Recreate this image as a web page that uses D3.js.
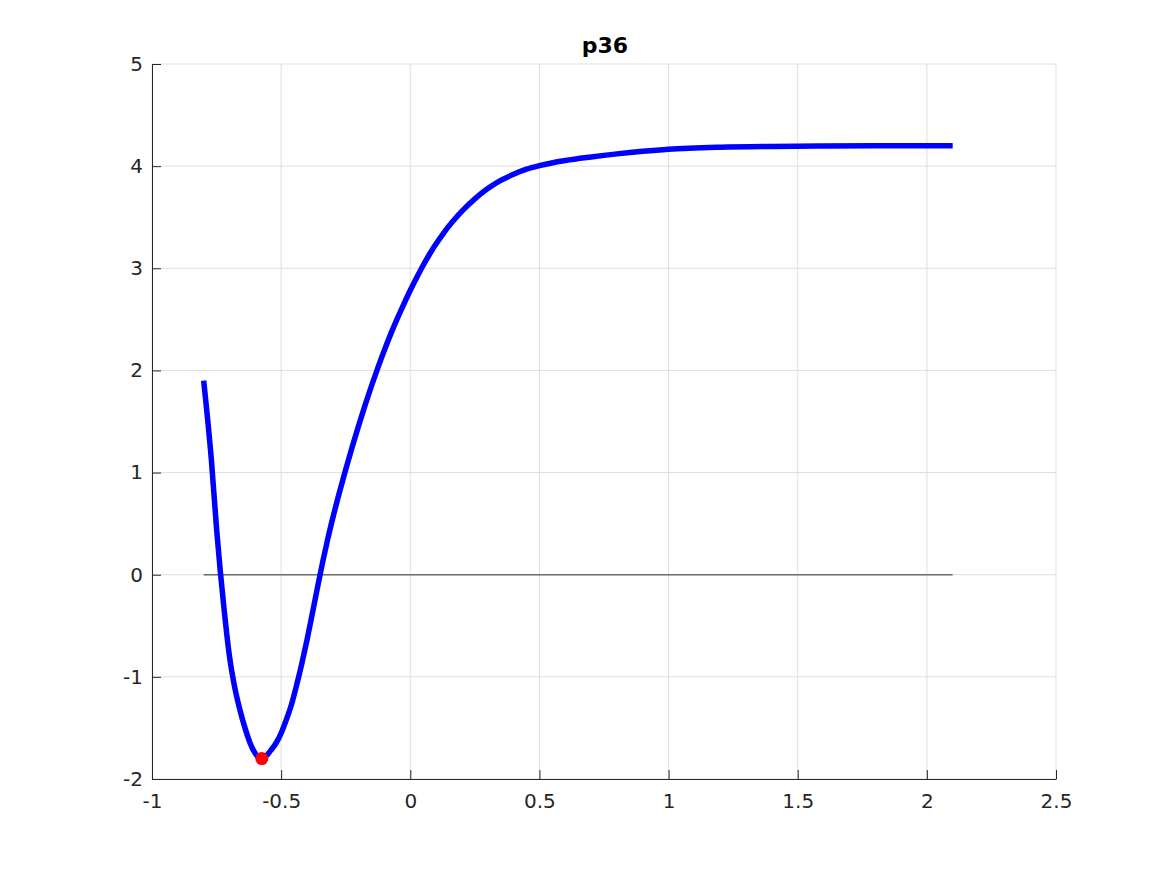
<!DOCTYPE html>
<html>
<head>
<meta charset="utf-8">
<script src="https://cdn.jsdelivr.net/npm/d3@7"></script>
<style>
  body { margin: 0; background: #fff; }
  text { font-family: "DejaVu Sans", sans-serif; }
</style>
</head>
<body>
<div class="chart"></div>
<script>
// curve values
const xs = [-0.8, -0.77, -0.75, -0.72, -0.70, -0.68, -0.66, -0.64, -0.62, -0.60, -0.58,
            -0.56, -0.54, -0.52, -0.50, -0.48, -0.46, -0.44, -0.42, -0.40, -0.38, -0.36,
            -0.34, -0.32, -0.30, -0.275, -0.25, -0.225, -0.20, -0.175, -0.15, -0.125,
            -0.10, -0.075, -0.05, -0.025, 0, 0.025, 0.05, 0.075, 0.10, 0.125, 0.15, 0.175,
            0.20, 0.25, 0.30, 0.35, 0.40, 0.45, 0.50, 0.60, 0.70, 0.80, 0.90,
            1.0, 1.2, 1.4, 1.6, 1.8, 2.0, 2.1];
const ys = [1.9, 1.12, 0.45, -0.36, -0.80, -1.10, -1.32, -1.50, -1.65, -1.75, -1.80,
            -1.78, -1.72, -1.65, -1.55, -1.42, -1.27, -1.08, -0.87, -0.64, -0.39, -0.135,
            0.115, 0.345, 0.555, 0.80, 1.03, 1.25, 1.46, 1.66, 1.85, 2.03,
            2.20, 2.36, 2.51, 2.65, 2.785, 2.91, 3.03, 3.14, 3.24, 3.33, 3.415, 3.49,
            3.56, 3.68, 3.78, 3.86, 3.92, 3.97, 4.005, 4.055, 4.09, 4.12, 4.145,
            4.165, 4.185, 4.193, 4.197, 4.199, 4.2, 4.2];
const zeroLine = [[-0.8, 0], [2.1, 0]];
const minPoint = [-0.575, -1.8];
const xTicks = [-1, -0.5, 0, 0.5, 1, 1.5, 2, 2.5];
const yTicks = [-2, -1, 0, 1, 2, 3, 4, 5];
const title = "p36";

const w = 1167, h = 875;
const padL = 152, padR = 1056, padT = 64, padB = 779;

const svg = d3.select(".chart").append("svg")
  .attr("width", w).attr("height", h);

const x = d3.scaleLinear().domain([-1, 2.5]).range([padL, padR]);
const y = d3.scaleLinear().domain([-2, 5]).range([padB, padT]);

// grid
svg.append("g").selectAll("line").data(xTicks).enter().append("line")
  .attr("x1", d => x(d)).attr("x2", d => x(d))
  .attr("y1", padT).attr("y2", padB)
  .attr("stroke", "#dfdfdf").attr("stroke-width", 1);
svg.append("g").selectAll("line").data(yTicks).enter().append("line")
  .attr("x1", padL).attr("x2", padR)
  .attr("y1", d => y(d)).attr("y2", d => y(d))
  .attr("stroke", "#dfdfdf").attr("stroke-width", 1);

// axes
const xAxis = d3.axisBottom(x).tickValues(xTicks).tickSizeInner(-9).tickSizeOuter(0)
  .tickPadding(15).tickFormat(d => d);
const yAxis = d3.axisLeft(y).tickValues(yTicks).tickSizeInner(-9).tickSizeOuter(0)
  .tickPadding(9).tickFormat(d => d);

const gx = svg.append("g").attr("transform", "translate(0," + padB + ")").call(xAxis);
const gy = svg.append("g").attr("transform", "translate(" + padL + ",0)").call(yAxis);
[gx, gy].forEach(g => {
  g.select(".domain").attr("stroke", "#262626").attr("stroke-width", 1);
  g.selectAll(".tick line").attr("stroke", "#262626");
  g.selectAll(".tick text").attr("fill", "#262626")
    .style("font-size", "20px").style("font-family", "DejaVu Sans, sans-serif");
});

// zero line
svg.append("path")
  .attr("d", d3.line().x(d => x(d[0])).y(d => y(d[1]))(zeroLine))
  .attr("stroke", "#6b6b6b").attr("stroke-width", 1.5).attr("fill", "none");

// curve
const pts = xs.map((v, i) => [v, ys[i]]);
svg.append("path")
  .attr("d", d3.line().x(d => x(d[0])).y(d => y(d[1])).curve(d3.curveMonotoneX)(pts))
  .attr("stroke", "#0000ff").attr("stroke-width", 5.5).attr("fill", "none");

// minimum marker
svg.append("circle")
  .attr("cx", x(minPoint[0])).attr("cy", y(minPoint[1])).attr("r", 6.5)
  .attr("fill", "#ff0000");

svg.append("text")
  .attr("x", 605).attr("y", 53)
  .attr("text-anchor", "middle")
  .style("font-size", "22px").style("font-weight", "bold")
  .attr("fill", "#000")
  .text(title);
</script>
</body>
</html>
